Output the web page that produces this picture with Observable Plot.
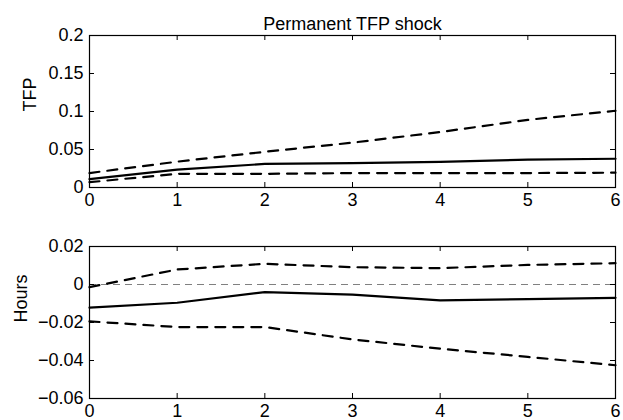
<!DOCTYPE html>
<html>
<head>
<meta charset="utf-8">
<script src="https://cdn.jsdelivr.net/npm/d3@7"></script>
<script src="https://cdn.jsdelivr.net/npm/@observablehq/plot@0.6"></script>
<style>
  html, body { margin: 0; padding: 0; background: #fff; }
  #chart { width: 623px; height: 420px; position: relative; }
  #chart svg { display: block; overflow: visible; }
</style>
</head>
<body>
<div id="chart"></div>
<script>
const title = "Permanent TFP shock";
const horizons = [0, 1, 2, 3, 4, 5, 6];
const xTicks = [0, 1, 2, 3, 4, 5, 6];
const xTickLabels = ["0", "1", "2", "3", "4", "5", "6"];

const tfpMedian = [0.011, 0.0235, 0.031, 0.032, 0.0336, 0.0366, 0.0378];
const tfpUpper  = [0.019, 0.034, 0.047, 0.059, 0.073, 0.089, 0.101];
const tfpLower  = [0.007, 0.018, 0.018, 0.019, 0.019, 0.019, 0.0195];
const tfpTicks  = [0, 0.05, 0.1, 0.15, 0.2];
const tfpTickLabels = ["0", "0.05", "0.1", "0.15", "0.2"];

const hoursMedian = [-0.0122, -0.0096, -0.004, -0.0053, -0.0084, -0.0077, -0.007];
const hoursUpper  = [-0.0014, 0.0079, 0.0109, 0.0091, 0.0086, 0.0103, 0.0112];
const hoursLower  = [-0.0194, -0.0224, -0.0224, -0.0289, -0.0338, -0.0381, -0.0425];
const hoursTicks  = [-0.06, -0.04, -0.02, 0, 0.02];
const hoursTickLabels = ["\u22120.06", "\u22120.04", "\u22120.02", "0", "0.02"];
const zeroLine = [0];

const W = 623;
const mL = 89, mR = 8;
const frameW = W - mL - mR;
const frameH = 152;

function panel({height, marginTop, marginBottom, yDomain, yTicks, yLabels, median, upper, lower, yLabel, labelDx, extra = []}) {
  const rows = horizons.map((h, i) => ({h, med: median[i], up: upper[i], lo: lower[i]}));
  return Plot.plot({
    width: W, height, marginLeft: mL, marginRight: mR, marginTop, marginBottom,
    style: {fontFamily: "'Liberation Sans', Arial, Helvetica, sans-serif", fontSize: "18px", color: "#000", background: "#fff", overflow: "visible"},
    x: {domain: [0, 6], ticks: xTicks, tickSize: 0, tickPadding: 6, label: null,
        tickFormat: d => xTickLabels[xTicks.indexOf(d)]},
    y: {domain: yDomain, ticks: yTicks, tickSize: 0, tickPadding: 6, label: null,
        tickFormat: d => yLabels[yTicks.indexOf(d)]},
    marks: [
      ...extra,
      Plot.line(rows, {x: "h", y: "up", stroke: "#000", strokeWidth: 2.2, strokeDasharray: "10,8"}),
      Plot.line(rows, {x: "h", y: "lo", stroke: "#000", strokeWidth: 2.2, strokeDasharray: "10,8"}),
      Plot.line(rows, {x: "h", y: "med", stroke: "#000", strokeWidth: 2.2}),
      Plot.tickX(xTicks, {x: d => d, stroke: "#000", strokeWidth: 1, insetTop: frameH - 5}),
      Plot.tickX(xTicks, {x: d => d, stroke: "#000", strokeWidth: 1, insetBottom: frameH - 5}),
      Plot.tickY(yTicks, {y: d => d, stroke: "#000", strokeWidth: 1, insetRight: frameW - 5}),
      Plot.tickY(yTicks, {y: d => d, stroke: "#000", strokeWidth: 1, insetLeft: frameW - 5}),
      Plot.frame({stroke: "#000", strokeWidth: 1.2}),
      Plot.text([yLabel], {text: d => d, frameAnchor: "left", rotate: -90, dx: labelDx, fontSize: 18, fill: "#000"})
    ]
  });
}

const topPanel = panel({
  height: 215, marginTop: 35, marginBottom: 28,
  yDomain: [0, 0.2], yTicks: tfpTicks, yLabels: tfpTickLabels,
  median: tfpMedian, upper: tfpUpper, lower: tfpLower,
  yLabel: "TFP", labelDx: -59,
  extra: [Plot.text([title], {text: d => d, frameAnchor: "top", dy: -18, fontSize: 18, fill: "#000"})]
});

const bottomPanel = panel({
  height: 205, marginTop: 31, marginBottom: 22,
  yDomain: [-0.06, 0.02], yTicks: hoursTicks, yLabels: hoursTickLabels,
  median: hoursMedian, upper: hoursUpper, lower: hoursLower,
  yLabel: "Hours", labelDx: -68,
  extra: [Plot.ruleY(zeroLine, {stroke: "#808080", strokeWidth: 1, strokeDasharray: "7,5"})]
});

const el = document.getElementById("chart");
el.appendChild(topPanel);
el.appendChild(bottomPanel);
</script>
</body>
</html>
